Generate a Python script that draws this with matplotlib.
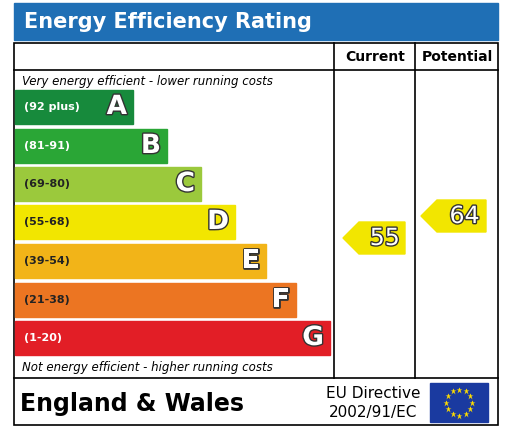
import matplotlib
matplotlib.use("Agg")
import matplotlib.pyplot as plt
from matplotlib.patches import Rectangle, Polygon
import matplotlib.patheffects as pe
import numpy as np

bands = ["A", "B", "C", "D", "E", "F", "G"]
ranges = ["(92 plus)", "(81-91)", "(69-80)", "(55-68)", "(39-54)", "(21-38)", "(1-20)"]
colors = ["#178a3c", "#2aa636", "#9bc93c", "#f2e600", "#f2b418", "#ec7522", "#e21e26"]
current = 55
potential = 64

W, H = 522, 437
fig = plt.figure(figsize=(W/100, H/100), dpi=100)
ax = fig.add_axes([0, 0, 1, 1])
ax.set_xlim(0, W); ax.set_ylim(H, 0); ax.axis("off")

# title bar
ax.add_patch(Rectangle((14, 3), 484, 37, color="#1f6fb5"))
ax.text(24, 22, "Energy Efficiency Rating", color="white", fontsize=15, fontweight="bold", va="center")

# frame
lw = 1.2
ax.add_patch(Rectangle((14, 43), 484, 382, fill=False, ec="black", lw=lw))
ax.plot([14, 498], [70, 70], color="black", lw=lw)
ax.plot([14, 498], [378, 378], color="black", lw=lw)
ax.plot([334, 334], [43, 378], color="black", lw=lw)
ax.plot([415, 415], [43, 378], color="black", lw=lw)
ax.text(375, 57, "Current", ha="center", va="center", fontsize=10, fontweight="bold")
ax.text(457, 57, "Potential", ha="center", va="center", fontsize=10, fontweight="bold")

ax.text(22, 81, "Very energy efficient - lower running costs", fontsize=8.5, style="italic", va="center")
ax.text(22, 368, "Not energy efficient - higher running costs", fontsize=8.5, style="italic", va="center")

tops = [90, 129, 167, 205, 244, 283, 321]
rights = [133, 167, 201, 235, 266, 296, 330]
for i, b in enumerate(bands):
    ax.add_patch(Rectangle((15, tops[i]), rights[i]-15, 34, color=colors[i]))
    ax.text(24, tops[i]+17, ranges[i], fontsize=8, fontweight="bold", va="center",
            color="white" if i in (0, 1, 6) else "#222222")
    ax.text(rights[i]-6, tops[i]+17, b, fontsize=19, fontweight="bold", ha="right", va="center",
            color="white", path_effects=[pe.withStroke(linewidth=2, foreground="#333333")])

def yv(v):
    return 238 - (v - 55) * 22 / 9

def arrow(x0, x1, v, col):
    yc = yv(v)
    h = 16
    pts = [(x0, yc), (x0+16, yc-h), (x1, yc-h), (x1, yc+h), (x0+16, yc+h)]
    ax.add_patch(Polygon(pts, closed=True, color=col))
    ax.text((x0+16+x1)/2+3, yc, str(v), fontsize=17, ha="center", va="center", color="white",
            path_effects=[pe.withStroke(linewidth=2, foreground="#333333")])

def band_col(v):
    lims = [92, 81, 69, 55, 39, 21, 1]
    for l, c in zip(lims, colors):
        if v >= l:
            return c
    return colors[-1]

arrow(343, 405, current, band_col(current))
arrow(421, 486, potential, band_col(potential))

# footer
ax.text(20, 404, "England & Wales", fontsize=17, fontweight="bold", va="center")
ax.text(373, 394, "EU Directive", fontsize=11, ha="center", va="center")
ax.text(373, 412, "2002/91/EC", fontsize=11, ha="center", va="center")
ax.add_patch(Rectangle((430, 383), 58, 39, color="#1a3aa0"))
for k in range(12):
    a = 2*np.pi*k/12
    ax.plot(459 + 13*np.cos(a), 402.5 + 13*np.sin(a), marker="*", color="#ffdd00", ms=5, mec="none")

fig.savefig("out.png", dpi=100)
